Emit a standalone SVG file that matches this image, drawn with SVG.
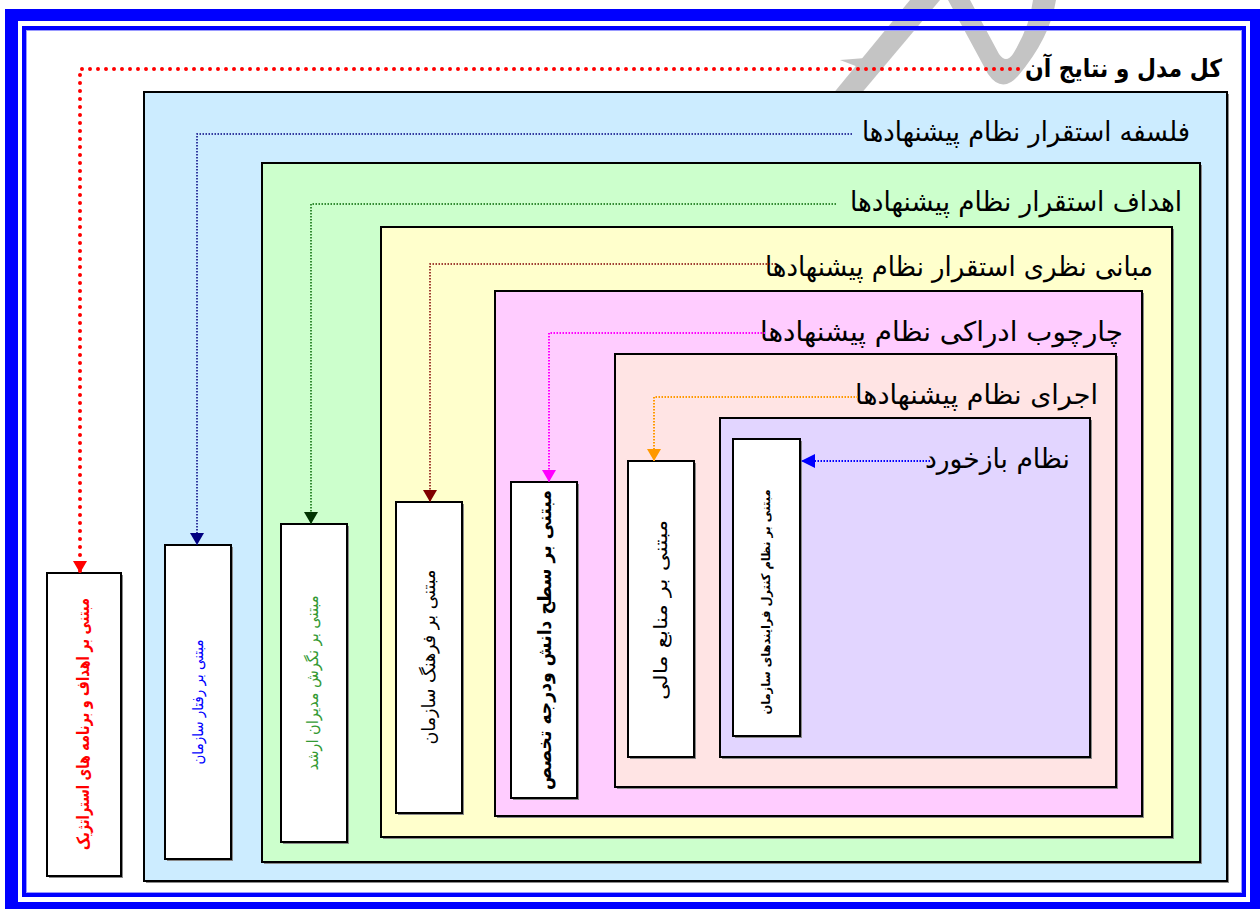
<svg xmlns="http://www.w3.org/2000/svg" width="1260" height="909" viewBox="0 0 1260 909">
<style>
.box{stroke:#000;stroke-width:2}
.sh{fill:#8a8a8a}
.wb{fill:#fff;stroke:#000;stroke-width:2}
.lbl{font-family:'DejaVu Sans',sans-serif;font-size:27px;fill:#000;text-anchor:end}
.vt{font-family:'DejaVu Sans',sans-serif;text-anchor:middle}
.dot{fill:none;stroke-width:1.5;stroke-dasharray:1.5 1.5}
</style>
<defs>
<marker id="mRed" viewBox="0 0 12 14" refX="12" refY="7" markerWidth="12" markerHeight="14" markerUnits="userSpaceOnUse" orient="auto"><path d="M0,0L12,7L0,14Z" fill="#FF0000"/></marker>
<marker id="mNavy" viewBox="0 0 12 14" refX="12" refY="7" markerWidth="12" markerHeight="14" markerUnits="userSpaceOnUse" orient="auto"><path d="M0,0L12,7L0,14Z" fill="#000080"/></marker>
<marker id="mGreen" viewBox="0 0 12 14" refX="12" refY="7" markerWidth="12" markerHeight="14" markerUnits="userSpaceOnUse" orient="auto"><path d="M0,0L12,7L0,14Z" fill="#003300"/></marker>
<marker id="mBrown" viewBox="0 0 12 14" refX="12" refY="7" markerWidth="12" markerHeight="14" markerUnits="userSpaceOnUse" orient="auto"><path d="M0,0L12,7L0,14Z" fill="#800000"/></marker>
<marker id="mMag" viewBox="0 0 12 14" refX="12" refY="7" markerWidth="12" markerHeight="14" markerUnits="userSpaceOnUse" orient="auto"><path d="M0,0L12,7L0,14Z" fill="#FF00FF"/></marker>
<marker id="mOr" viewBox="0 0 12 14" refX="12" refY="7" markerWidth="12" markerHeight="14" markerUnits="userSpaceOnUse" orient="auto"><path d="M0,0L12,7L0,14Z" fill="#FF9900"/></marker>
<marker id="mBlue" viewBox="0 0 14 14" refX="14" refY="7" markerWidth="14" markerHeight="14" markerUnits="userSpaceOnUse" orient="auto"><path d="M0,0L14,7L0,14Z" fill="#0000FF"/></marker>
</defs>
<rect width="1260" height="909" fill="#fff"/>
<g id="watermark" fill="#C4C4C4">
<path d="M832,95 L860,95 L940,0 L910,0 Z"/>
<path d="M840,60 L878,57 L866,70 Z"/>
<path fill-rule="evenodd" d="M948,0 L988,74 Q1002,94 1018,76 Q1050,38 1056,0 Z M970,0 L999,54 Q1006,64 1013,54 Q1030,26 1033,0 Z"/>
</g>
<g id="frame">
<path fill="#0000FF" fill-rule="evenodd" d="M5,9 H1265 V915 H5 Z M18,21 V902 H1250 V21 Z"/>
<rect x="24" y="28" width="1220" height="867" fill="none" stroke="#0000FF" stroke-width="4"/>
<rect x="26.5" y="30.5" width="1215" height="862" fill="none" stroke="#9999FF" stroke-width="1"/>
</g>
<g id="title">
<text x="1222" y="77" class="lbl" style="font-weight:bold;font-size:25px" textLength="197" lengthAdjust="spacingAndGlyphs">کل مدل و نتایج آن</text>
</g>
<g id="philosophy">
<rect class="sh" x="146" y="94" width="1083" height="789"/>
<rect class="box" x="144" y="92" width="1083" height="789" fill="#CCECFF"/>
<text x="1190" y="141" class="lbl" textLength="328" lengthAdjust="spacingAndGlyphs">فلسفه استقرار نظام پیشنهادها</text>
</g>
<g id="goals">
<rect class="sh" x="264" y="165" width="938" height="699"/>
<rect class="box" x="262" y="163" width="938" height="699" fill="#CCFFCC"/>
<text x="1182" y="211" class="lbl" textLength="332" lengthAdjust="spacingAndGlyphs">اهداف استقرار نظام پیشنهادها</text>
</g>
<g id="theory">
<rect class="sh" x="383" y="229" width="791" height="610"/>
<rect class="box" x="381" y="227" width="791" height="610" fill="#FFFFCC"/>
<text x="1153" y="276" class="lbl" textLength="388" lengthAdjust="spacingAndGlyphs">مبانی نظری استقرار نظام پیشنهادها</text>
</g>
<g id="framework">
<rect class="sh" x="497" y="293" width="647" height="525"/>
<rect class="box" x="495" y="291" width="647" height="525" fill="#FFCCFF"/>
<text x="1123" y="341" class="lbl" textLength="363" lengthAdjust="spacingAndGlyphs">چارچوب ادراکی نظام پیشنهادها</text>
</g>
<g id="execution">
<rect class="sh" x="617" y="356" width="501" height="433"/>
<rect class="box" x="615" y="354" width="501" height="433" fill="#FFE4E4"/>
<text x="1098" y="404" class="lbl" textLength="243" lengthAdjust="spacingAndGlyphs">اجرای نظام پیشنهادها</text>
</g>
<g id="feedback">
<rect class="sh" x="722" y="420" width="370" height="339"/>
<rect class="box" x="720" y="418" width="370" height="339" fill="#E2D5FF"/>
<text x="1070" y="468" class="lbl" textLength="145" lengthAdjust="spacingAndGlyphs">نظام بازخورد</text>
</g>
<g id="b-strategy">
<rect class="sh" x="49" y="575" width="74" height="303"/>
<rect class="wb" x="47" y="573" width="74" height="303"/>
<text class="vt" transform="translate(84,724) rotate(-90)" y="5" style="font-size:17px;font-weight:bold;fill:#FF0000" textLength="252" lengthAdjust="spacingAndGlyphs">مبتنی بر اهداف و برنامه های استراتژیک</text>
</g>
<g id="b-behavior">
<rect class="sh" x="167" y="547" width="66" height="314"/>
<rect class="wb" x="165" y="545" width="66" height="314"/>
<text class="vt" transform="translate(198,702) rotate(-90)" y="5" style="font-size:15px;fill:#0000FF" textLength="125" lengthAdjust="spacingAndGlyphs">مبتنی بر رفتار سازمان</text>
</g>
<g id="b-managers">
<rect class="sh" x="283" y="526" width="66" height="318"/>
<rect class="wb" x="281" y="524" width="66" height="318"/>
<text class="vt" transform="translate(313,683) rotate(-90)" y="5" style="font-size:16px;fill:#339933" textLength="175" lengthAdjust="spacingAndGlyphs">مبتنی بر نگرش مدیران ارشد</text>
</g>
<g id="b-culture">
<rect class="sh" x="398" y="504" width="66" height="311"/>
<rect class="wb" x="396" y="502" width="66" height="311"/>
<text class="vt" transform="translate(429,657) rotate(-90)" y="6" style="font-size:18px;fill:#000" textLength="175" lengthAdjust="spacingAndGlyphs">مبتنی بر فرهنگ سازمان</text>
</g>
<g id="b-knowledge">
<rect class="sh" x="513" y="484" width="66" height="316"/>
<rect class="wb" x="511" y="482" width="66" height="316"/>
<text class="vt" transform="translate(544,640) rotate(-90)" y="7" style="font-size:19px;font-weight:bold;fill:#000" textLength="300" lengthAdjust="spacingAndGlyphs">مبتنی بر سطح دانش ودرجه تخصص</text>
</g>
<g id="b-finance">
<rect class="sh" x="630" y="463" width="66" height="296"/>
<rect class="wb" x="628" y="461" width="66" height="296"/>
<text class="vt" transform="translate(661,610) rotate(-90)" y="6" style="font-size:19px;fill:#000" textLength="180" lengthAdjust="spacingAndGlyphs">مبتنی بر  منابع مالی</text>
</g>
<g id="b-control">
<rect class="sh" x="735" y="441" width="67" height="297"/>
<rect class="wb" x="733" y="439" width="67" height="297"/>
<text class="vt" transform="translate(766,602) rotate(-90)" y="4" style="font-size:12px;font-weight:bold;fill:#000" textLength="225" lengthAdjust="spacingAndGlyphs">مبتنی بر نظام کنترل فرایندهای سازمان</text>
</g>
<g id="connectors">
<path d="M1018,69 H80 V573" fill="none" stroke="#FF0000" stroke-width="4" stroke-linecap="round" stroke-dasharray="0 8" marker-end="url(#mRed)"/>
<path d="M852,134 H197 V545" class="dot" stroke="#000080" marker-end="url(#mNavy)"/>
<path d="M836,204 H311 V524" class="dot" stroke="#006600" marker-end="url(#mGreen)"/>
<path d="M776,264 H430 V502" class="dot" stroke="#800000" marker-end="url(#mBrown)"/>
<path d="M765,333 H549 V482" class="dot" stroke="#FF00FF" style="stroke-width:2" marker-end="url(#mMag)"/>
<path d="M858,397 H654 V461" class="dot" stroke="#FF9900" style="stroke-width:2" marker-end="url(#mOr)"/>
<path d="M930,461 H801" class="dot" stroke="#0000FF" style="stroke-width:2" marker-end="url(#mBlue)"/>
</g>
</svg>
